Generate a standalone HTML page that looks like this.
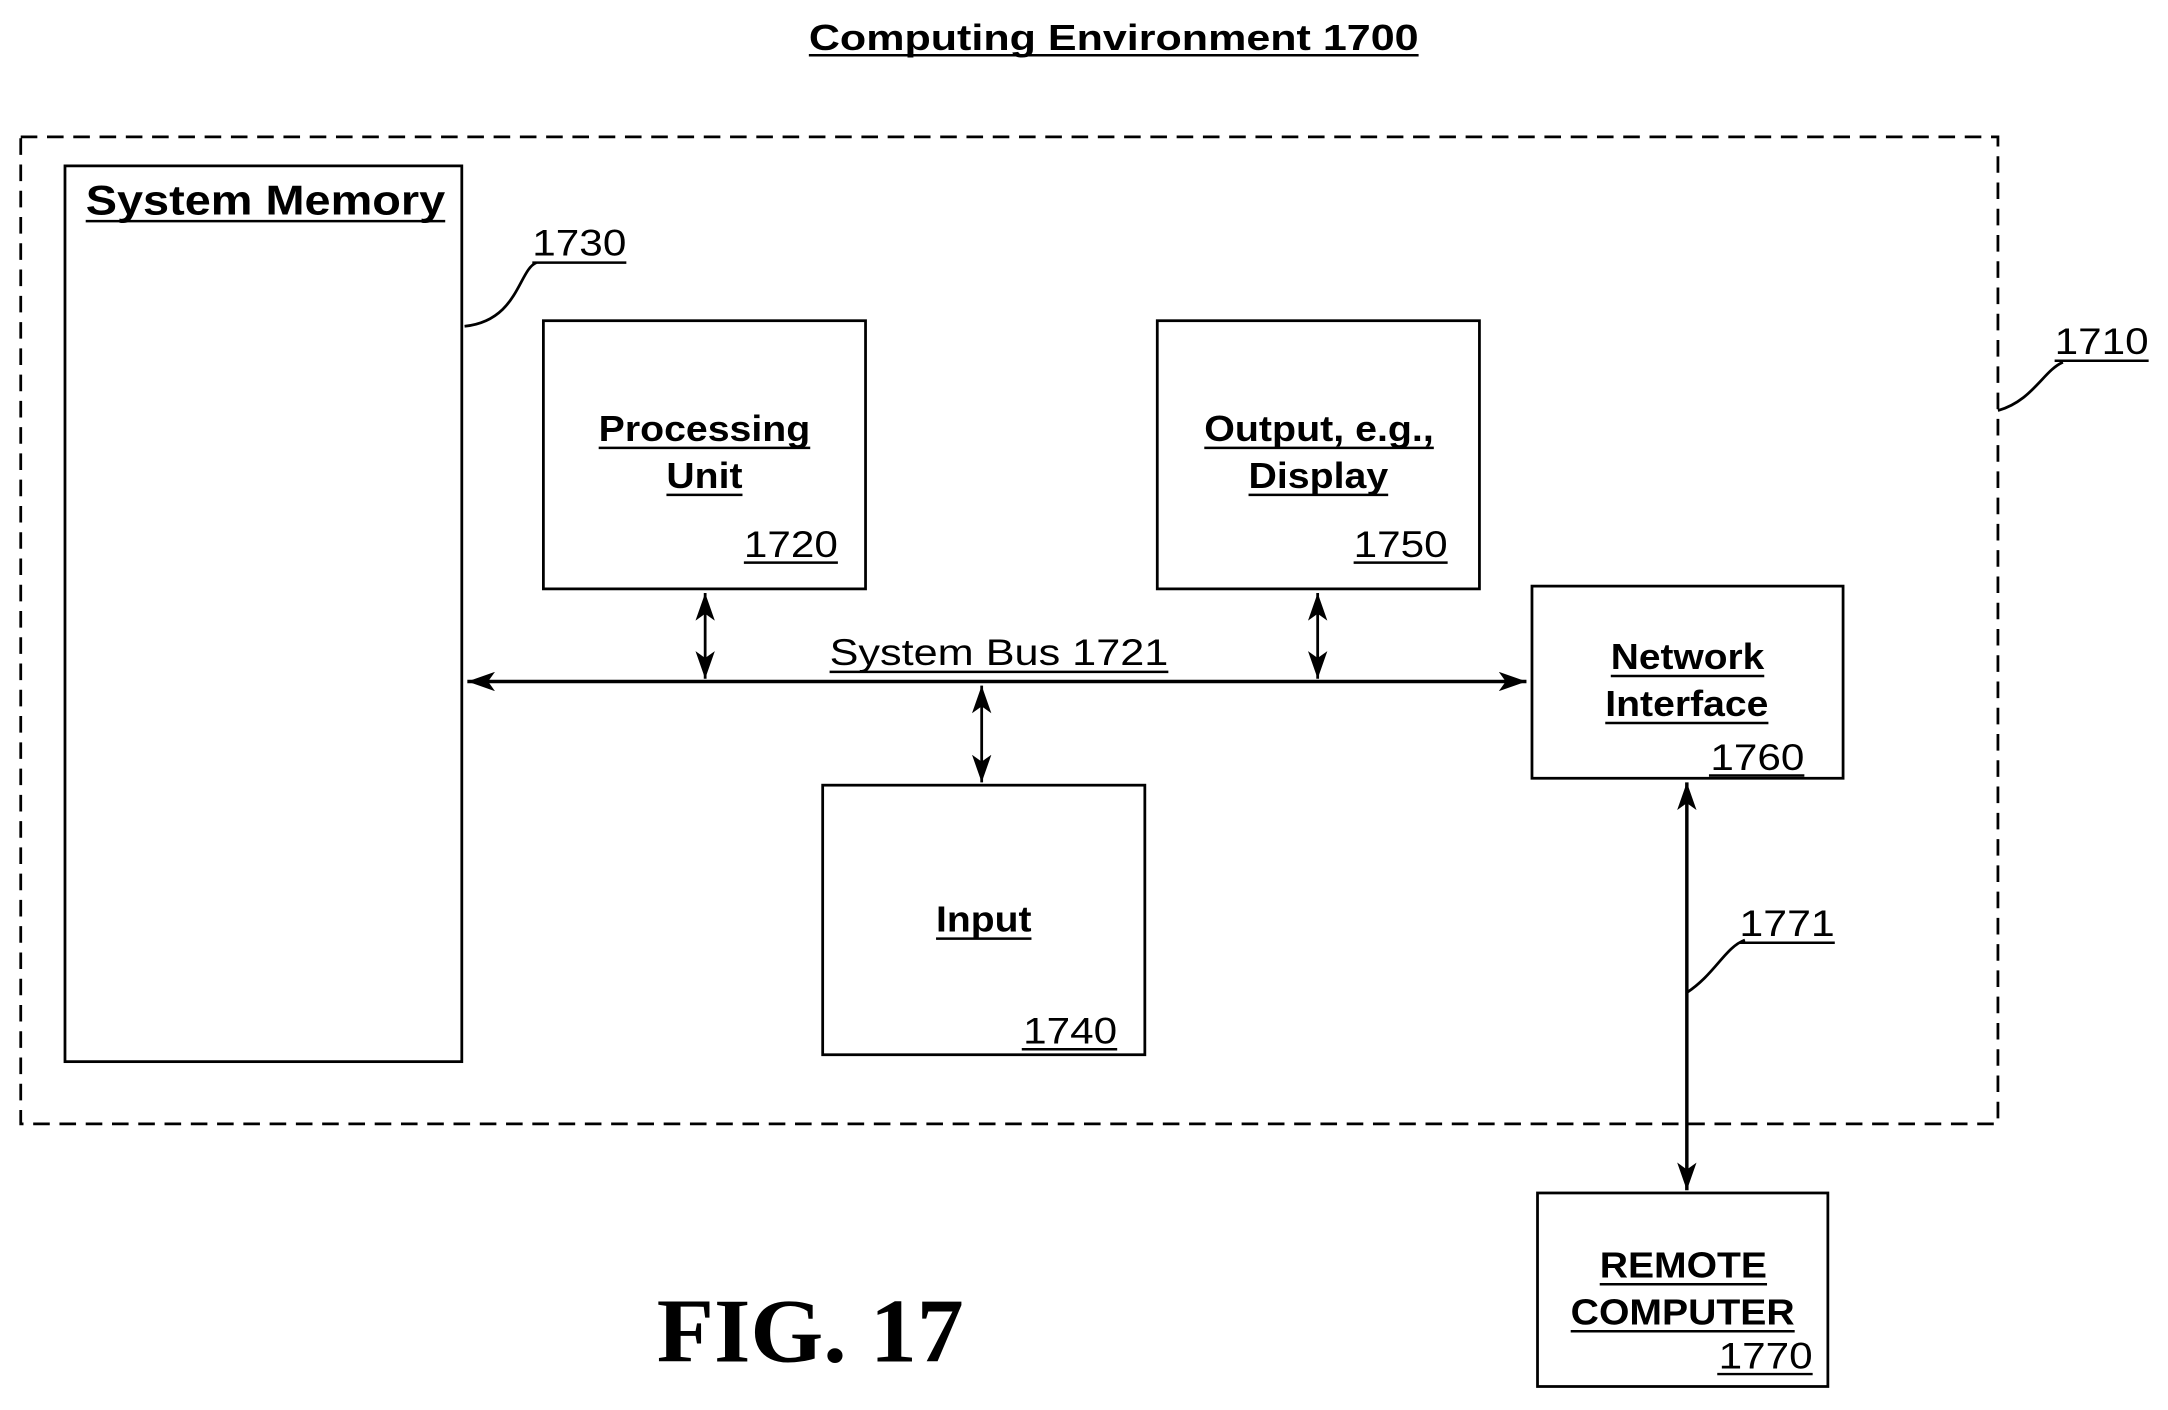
<!DOCTYPE html>
<html><head><meta charset="utf-8"><style>
html,body{margin:0;padding:0;background:#fff;}
svg{display:block;}
text{font-family:"Liberation Sans",Arial,sans-serif;fill:#000;}
.b{font-weight:bold;font-size:26px;}
.n{font-size:27px;}
</style></head><body>
<svg width="2168" height="1410" viewBox="0 0 1568 1020" preserveAspectRatio="none" xmlns="http://www.w3.org/2000/svg">
<defs>
<marker id="a" viewBox="0 0 10 10" refX="10" refY="5" markerWidth="7" markerHeight="7" orient="auto-start-reverse" markerUnits="userSpaceOnUse">
<path d="M0,0 L10,5 L0,10 L3,5 z" fill="#000"/></marker>
<marker id="m" viewBox="0 0 20 14" refX="20" refY="7" markerWidth="20" markerHeight="14" orient="auto-start-reverse" markerUnits="userSpaceOnUse">
<path d="M0,0 L20,7 L0,14 L5,7 z" fill="#000"/></marker>
</defs>
<g stroke="#000" fill="none" stroke-width="2">
<rect x="15" y="99" width="1430" height="714" stroke-dasharray="12,7"/>
<rect x="47" y="120" width="287" height="648"/>
<rect x="393" y="232" width="233" height="194"/>
<rect x="837" y="232" width="233" height="194"/>
<rect x="1108" y="424" width="225" height="139"/>
<rect x="595" y="568" width="233" height="195"/>
<rect x="1112" y="863" width="210" height="140"/>
<line x1="338" y1="493" x2="1104" y2="493" stroke-width="2.5" marker-start="url(#m)" marker-end="url(#m)"/>
<line x1="510" y1="429" x2="510" y2="491" marker-start="url(#m)" marker-end="url(#m)"/>
<line x1="953" y1="429" x2="953" y2="491" marker-start="url(#m)" marker-end="url(#m)"/>
<line x1="710" y1="496" x2="710" y2="566" marker-start="url(#m)" marker-end="url(#m)"/>
<line x1="1220" y1="566" x2="1220" y2="861" stroke-width="2.5" marker-start="url(#m)" marker-end="url(#m)"/>
<path d="M336,236 C375,232 375,195 388,190"/>
<path d="M1445,297 C1470,290 1478,268 1492,262"/>
<path d="M1220,718 C1240,705 1248,685 1262,680"/>
<!-- underlines -->
<g stroke-width="1.8">
<line x1="585" y1="40" x2="1026" y2="40"/>
<line x1="62" y1="160" x2="322" y2="160"/>
<line x1="385" y1="190" x2="453" y2="190"/>
<line x1="1486" y1="261" x2="1554" y2="261"/>
<line x1="433" y1="324" x2="586" y2="324"/>
<line x1="482" y1="358" x2="537" y2="358"/>
<line x1="538" y1="407" x2="606" y2="407"/>
<line x1="871" y1="324" x2="1037" y2="324"/>
<line x1="903" y1="358" x2="1004" y2="358"/>
<line x1="979" y1="407" x2="1047" y2="407"/>
<line x1="600" y1="486" x2="845" y2="486"/>
<line x1="1165" y1="489" x2="1276" y2="489"/>
<line x1="1161" y1="523" x2="1279" y2="523"/>
<line x1="1236" y1="561" x2="1305" y2="561"/>
<line x1="677" y1="679" x2="746" y2="679"/>
<line x1="739" y1="759" x2="808" y2="759"/>
<line x1="1258" y1="682" x2="1327" y2="682"/>
<line x1="1157" y1="929" x2="1278" y2="929"/>
<line x1="1136" y1="963" x2="1298" y2="963"/>
<line x1="1242" y1="994" x2="1311" y2="994"/>
</g>
</g>
<text class="b" x="585" y="36" textLength="441" lengthAdjust="spacingAndGlyphs">Computing Environment 1700</text>
<text class="b" x="62" y="155" font-size="30" style="font-size:30px" textLength="260" lengthAdjust="spacingAndGlyphs">System Memory</text>
<text class="n" x="385" y="185" textLength="68" lengthAdjust="spacingAndGlyphs">1730</text>
<text class="n" x="1486" y="256" textLength="68" lengthAdjust="spacingAndGlyphs">1710</text>
<text class="b" x="433" y="319" textLength="153" lengthAdjust="spacingAndGlyphs">Processing</text>
<text class="b" x="482" y="353" textLength="55" lengthAdjust="spacingAndGlyphs">Unit</text>
<text class="n" x="538" y="403" textLength="68" lengthAdjust="spacingAndGlyphs">1720</text>
<text class="b" x="871" y="319" textLength="166" lengthAdjust="spacingAndGlyphs">Output, e.g.,</text>
<text class="b" x="903" y="353" textLength="101" lengthAdjust="spacingAndGlyphs">Display</text>
<text class="n" x="979" y="403" textLength="68" lengthAdjust="spacingAndGlyphs">1750</text>
<text class="n" x="600" y="481" textLength="245" lengthAdjust="spacingAndGlyphs">System Bus 1721</text>
<text class="b" x="1165" y="484" textLength="111" lengthAdjust="spacingAndGlyphs">Network</text>
<text class="b" x="1161" y="518" textLength="118" lengthAdjust="spacingAndGlyphs">Interface</text>
<text class="n" x="1237" y="557" textLength="68" lengthAdjust="spacingAndGlyphs">1760</text>
<text class="b" x="677" y="674" textLength="69" lengthAdjust="spacingAndGlyphs">Input</text>
<text class="n" x="740" y="755" textLength="68" lengthAdjust="spacingAndGlyphs">1740</text>
<text class="n" x="1258" y="677" textLength="69" lengthAdjust="spacingAndGlyphs">1771</text>
<text class="b" x="1157" y="924" textLength="121" lengthAdjust="spacingAndGlyphs">REMOTE</text>
<text class="b" x="1136" y="958" textLength="162" lengthAdjust="spacingAndGlyphs">COMPUTER</text>
<text class="n" x="1243" y="990" textLength="68" lengthAdjust="spacingAndGlyphs">1770</text>
<text x="475" y="985" style="font-family:'Liberation Serif',serif;font-weight:bold;font-size:66px" textLength="222" lengthAdjust="spacingAndGlyphs">FIG. 17</text>
</svg>
</body></html>
